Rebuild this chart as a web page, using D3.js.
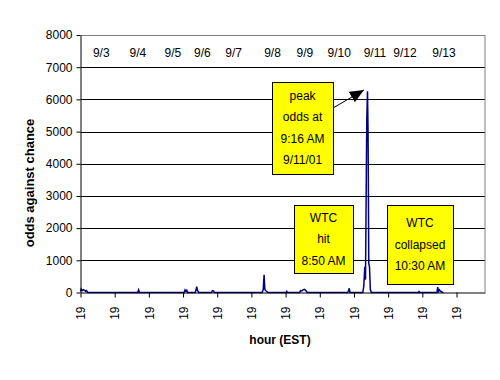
<!DOCTYPE html>
<head>
  <meta charset="utf-8">
  <script src="https://d3js.org/d3.v7.min.js"></script>
  <style>
    body { margin: 0; background: #fff; }
    text { font-family: "Liberation Sans", Arial, sans-serif; }
  </style>
</head>
<body>

<div id="my_dataviz"></div>

<script>

  // hours since first tick, and odds against chance
  var hours = [0, 0.5, 1.2, 2, 2.8, 3.5, 4.3, 5,
    40.2, 40.8, 41.4,
    72.8, 73.4, 74, 74.6, 75.2,
    80.5, 81, 81.6, 82.2, 83,
    92, 92.6, 93.4, 94,
    127.5, 128.3, 128.9, 129.4, 129.9, 130.6, 131.5,
    144.3, 144.8, 145.3,
    153.8, 154.5, 155.4, 156.3, 157.2, 158.2, 159.2,
    187.6, 188.2, 188.7, 189.2,
    198.2, 198.9, 199.6, 200.1, 200.7, 201.0, 201.5, 201.9, 202.4, 202.9, 203.5, 204.2,
    237.2, 237.7, 238.2,
    250.3, 250.8, 251.4, 252, 252.8, 253.5, 254.2, 254.8];
  var odds = [40, 110, 60, 90, 70, 40, 60, 0,
    0, 80, 0,
    0, 80, 40, 70, 0,
    0, 60, 180, 60, 0,
    0, 60, 50, 0,
    0, 90, 550, 110, 60, 40, 0,
    0, 40, 0,
    0, 60, 50, 80, 100, 60, 0,
    0, 60, 130, 0,
    0, 200, 800, 400, 3800, 5350, 6250, 5000, 900, 800, 100, 0,
    0, 30, 0,
    0, 170, 40, 80, 30, 30, 0, 0];

  var xTicks = [0, 24, 48, 72, 96, 120, 144, 168, 192, 216, 240, 264];
  var yTicks = [0, 1000, 2000, 3000, 4000, 5000, 6000, 7000, 8000];

  var dayLabels = ["9/3", "9/4", "9/5", "9/6", "9/7", "9/8", "9/9", "9/10", "9/11", "9/12", "9/13"];
  var dayHours = [14.6, 40.3, 64.9, 85.6, 107.5, 134.8, 157.5, 181.6, 206.7, 227.8, 255.2];

  // annotation boxes in data units: [hour0, hour1, odds top, odds bottom]
  var notes = [
    {lines: ["peak", "odds at", "9:16 AM", "9/11/01"], box: [134.5, 177.3, 6540, 3680]},
    {lines: ["WTC", "hit", "8:50 AM"], box: [149.9, 191.3, 2718, 606]},
    {lines: ["WTC", "collapsed", "10:30 AM"], box: [215.2, 261.5, 2718, 264]}
  ];
  var arrowFrom = [177.3, 5732], arrowTo = [199.0, 6291];

  var width = 500, height = 380;

  var svg = d3.select("#my_dataviz")
    .append("svg")
      .attr("width", width)
      .attr("height", height);

  var x = d3.scaleLinear().domain([0, 284]).range([80.5, 485]);
  var y = d3.scaleLinear().domain([0, 8000]).range([292.5, 35]);

  // gridlines
  svg.append("g")
    .selectAll("line")
    .data(yTicks.slice(1))
    .enter()
    .append("line")
      .attr("x1", x(0))
      .attr("x2", x(284))
      .attr("y1", function(d) { return Math.round(y(d)) + 0.5 })
      .attr("y2", function(d) { return Math.round(y(d)) + 0.5 })
      .style("stroke", function(d) { return d == 8000 ? "#808080" : "#000" })
      .style("stroke-width", 1);

  // right border
  svg.append("line")
    .attr("x1", x(284)).attr("x2", x(284))
    .attr("y1", y(8000)).attr("y2", y(0))
    .style("stroke", "#808080");

  // data line
  var pts = hours.map(function(h, i) { return [h, odds[i]] });
  svg.append("path")
    .datum(pts)
    .attr("d", d3.line().x(function(d) { return x(d[0]) }).y(function(d) { return y(d[1]) }))
    .style("fill", "none")
    .style("stroke", "#000080")
    .style("stroke-width", 1.5);

  // axes
  var yAxis = svg.append("g")
    .attr("transform", "translate(80.5,0)")
    .call(d3.axisLeft(y).tickValues(yTicks).tickFormat(d3.format("d"))
      .tickSize(4).tickSizeOuter(0).tickPadding(4));
  yAxis.selectAll("text").style("font-size", "12px").style("fill", "#000")
    .style("font-family", "'Liberation Sans', Arial, sans-serif");
  yAxis.selectAll("line, path").style("stroke", "#000");

  var xAxis = svg.append("g")
    .attr("transform", "translate(0,292.5)")
    .call(d3.axisBottom(x).tickValues(xTicks).tickSize(5).tickSizeOuter(0)
      .tickFormat(function() { return "19" }));
  xAxis.selectAll("line, path").style("stroke", "#000");
  xAxis.selectAll("text")
    .attr("transform", "rotate(-90)")
    .attr("x", -14)
    .attr("y", 0)
    .attr("dy", "0.35em")
    .style("text-anchor", "end")
    .style("font-size", "12px")
    .style("fill", "#000")
    .style("font-family", "'Liberation Sans', Arial, sans-serif");

  // day labels
  svg.append("g")
    .selectAll("text")
    .data(dayLabels)
    .enter()
    .append("text")
      .attr("x", function(d, i) { return x(dayHours[i]) })
      .attr("y", 57)
      .style("text-anchor", "middle")
      .style("font-size", "12px")
      .text(function(d) { return d });

  // arrow
  svg.append("defs").append("marker")
    .attr("id", "head")
    .attr("markerUnits", "userSpaceOnUse")
    .attr("markerWidth", 15).attr("markerHeight", 13)
    .attr("refX", 14).attr("refY", 6)
    .attr("orient", "auto")
    .append("path")
      .attr("d", "M0,0L14,6L0,12Z")
      .style("fill", "#000");
  svg.append("line")
    .attr("x1", x(arrowFrom[0])).attr("y1", y(arrowFrom[1]))
    .attr("x2", x(arrowTo[0])).attr("y2", y(arrowTo[1]))
    .style("stroke", "#000")
    .style("stroke-width", 1)
    .attr("marker-end", "url(#head)");

  // annotation boxes
  var lineH = 21.5;
  var g = svg.append("g")
    .selectAll("g")
    .data(notes)
    .enter()
    .append("g");
  g.append("rect")
    .attr("x", function(d) { return Math.round(x(d.box[0])) + 0.5 })
    .attr("y", function(d) { return Math.round(y(d.box[2])) + 0.5 })
    .attr("width", function(d) { return Math.round(x(d.box[1]) - x(d.box[0])) })
    .attr("height", function(d) { return Math.round(y(d.box[3]) - y(d.box[2])) })
    .style("fill", "#ffff00")
    .style("stroke", "#000")
    .style("stroke-width", 1);
  g.each(function(d) {
    var cx = (x(d.box[0]) + x(d.box[1])) / 2;
    var top = y(d.box[2]), h = y(d.box[3]) - top;
    var start = top + (h - d.lines.length * lineH) / 2 + lineH / 2;
    d3.select(this).selectAll("text")
      .data(d.lines)
      .enter()
      .append("text")
        .attr("x", cx)
        .attr("y", function(t, i) { return start + i * lineH })
        .attr("dy", "0.35em")
        .style("text-anchor", "middle")
        .style("font-size", "12px")
        .text(function(t) { return t });
  });

  // axis titles
  svg.append("text")
    .attr("transform", "translate(33.5,183) rotate(-90)")
    .style("text-anchor", "middle")
    .style("font-size", "13px")
    .style("font-weight", "bold")
    .text("odds against chance");

  svg.append("text")
    .attr("x", 280)
    .attr("y", 344)
    .style("text-anchor", "middle")
    .style("font-size", "12px")
    .style("font-weight", "bold")
    .text("hour (EST)");

</script>

</body>
